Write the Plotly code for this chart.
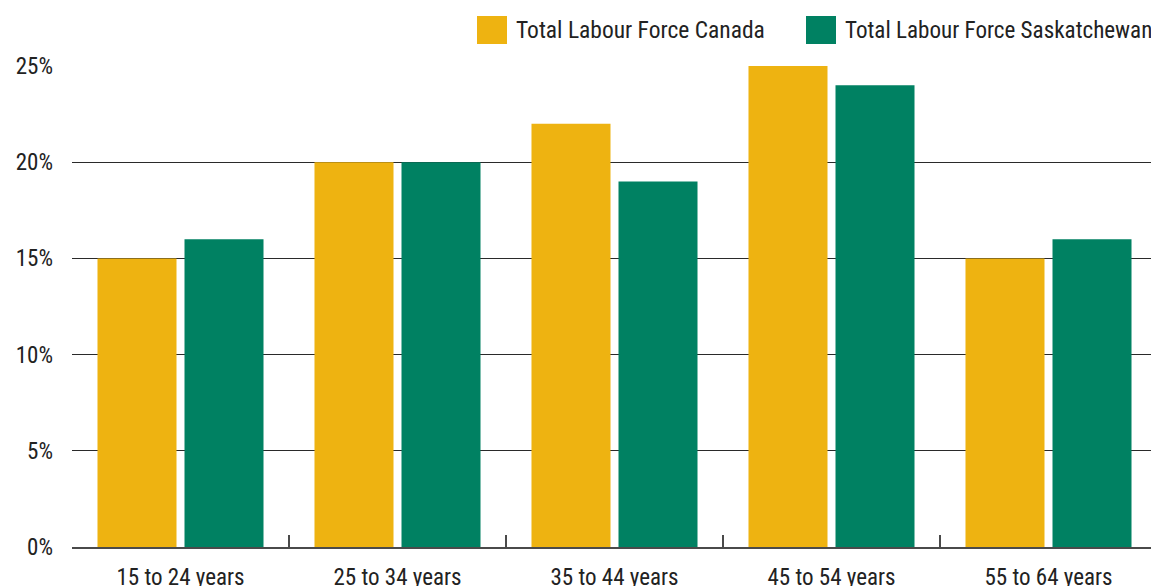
import plotly.graph_objects as go

age_groups = ['15 to 24 years', '25 to 34 years', '35 to 44 years', '45 to 54 years', '55 to 64 years']
canada = [15, 20, 22, 25, 15]
saskatchewan = [16, 20, 19, 24, 16]
y_ticks = [0, 5, 10, 15, 20, 25]
y_tick_labels = [f'{v}%' for v in y_ticks]

canada_colour = 'rgb(238, 179, 17)'
sask_colour = 'rgb(0, 129, 98)'
font_family = 'Liberation Sans Narrow, Roboto Condensed, DejaVu Sans Condensed, Arial Narrow, sans-serif'
text_colour = '#222222'

fig = go.Figure()
fig.add_trace(go.Bar(x=age_groups, y=canada, name='Total Labour Force Canada',
                     marker_color=canada_colour, marker_line_width=0))
fig.add_trace(go.Bar(x=age_groups, y=saskatchewan, name='Total Labour Force Saskatchewan',
                     marker_color=sask_colour, marker_line_width=0))

# legend drawn by hand so the swatches match the original size
# (positions in page pixels, plot area spans x 72-1157, y 66-547)
legend_items = [('Total Labour Force Canada', canada_colour, 477, 23.5),
                ('Total Labour Force Saskatchewan', sask_colour, 806, 23.1)]
for label, colour, x0, size in legend_items:
    fig.add_shape(type='rect', xref='paper', yref='paper',
                  x0=(x0 - 72) / 1085, x1=(x0 + 30 - 72) / 1085,
                  y0=(547 - 44) / 481, y1=(547 - 16) / 481,
                  fillcolor=colour, line_width=0)
    fig.add_annotation(text=label, xref='paper', yref='paper',
                       x=(x0 + 37 - 72) / 1085, y=(547 - 30) / 481,
                       xanchor='left', yanchor='middle', showarrow=False,
                       font=dict(size=size, color=text_colour, family=font_family))

fig.update_xaxes(showline=True, linecolor='#4a4a4a', linewidth=2,
                 ticks='inside', tickson='boundaries', ticklen=12, tickwidth=2, tickcolor='#4a4a4a',
                 ticklabelstandoff=8, automargin=False,
                 tickfont=dict(size=23, color=text_colour, family=font_family))
fig.update_yaxes(range=[0, 25], tickvals=y_ticks, ticktext=y_tick_labels,
                 showgrid=True, gridcolor='#2a2a2a', gridwidth=1, zeroline=False,
                 ticklabelstandoff=18, automargin=False,
                 tickfont=dict(size=23, color=text_colour, family=font_family))

# page body has an 8px margin, so the figure is shrunk by that much
fig.update_layout(barmode='group', bargap=0.198, bargroupgap=0.092,
                  showlegend=False,
                  plot_bgcolor='white', paper_bgcolor='white',
                  margin=dict(l=64, r=2, t=58, b=39),
                  width=1151, height=578)

fig.write_html('out.html')
